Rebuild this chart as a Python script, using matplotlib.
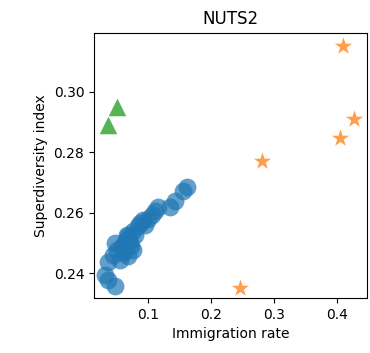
import matplotlib
matplotlib.use("Agg")
import matplotlib.pyplot as plt

# blue circles
circ_x = [0.161, 0.1547, 0.1425, 0.1345, 0.116, 0.1107, 0.1054, 0.092, 0.0868, 0.0948,
          0.0762, 0.0682, 0.071, 0.0603, 0.047, 0.0497, 0.0603, 0.0762, 0.055, 0.0364,
          0.031, 0.0364, 0.047, 0.0656, 0.0443, 0.083, 0.1, 0.058, 0.065, 0.072,
          0.079, 0.062, 0.068]
circ_y = [0.2684, 0.267, 0.2637, 0.262, 0.262, 0.2604, 0.2593, 0.2576, 0.2565, 0.256,
          0.2538, 0.2521, 0.2504, 0.2494, 0.2499, 0.2477, 0.2466, 0.2477, 0.2444, 0.2438,
          0.2394, 0.2378, 0.2356, 0.2527, 0.246, 0.2555, 0.258, 0.2485, 0.251, 0.2488,
          0.2525, 0.2475, 0.2455]
# orange stars
star_x = [0.410, 0.427, 0.405, 0.281, 0.2458]
star_y = [0.3151, 0.2909, 0.2846, 0.2769, 0.235]
# green triangles
tri_x = [0.0507, 0.0364]
tri_y = [0.2949, 0.289]

fig = plt.figure(figsize=(3.70, 3.53), dpi=100)
ax = fig.add_axes([0.254, 0.156, 0.737, 0.751])
ax.scatter(circ_x, circ_y, s=165, marker='o', color='#1f77b4', alpha=0.7, linewidths=0)
ax.scatter(star_x, star_y, s=170, marker='*', color='#ff7f0e', alpha=0.75, linewidths=0)
ax.scatter(tri_x, tri_y, s=160, marker='^', color='#2ca02c', alpha=0.8, linewidths=0)
ax.set_xlim(0.0137, 0.447)
ax.set_ylim(0.2318, 0.3194)
ax.set_xticks([0.1, 0.2, 0.3, 0.4])
ax.set_yticks([0.24, 0.26, 0.28, 0.30])
ax.set_xlabel("Immigration rate")
ax.set_ylabel("Superdiversity index")
ax.set_title("NUTS2")
fig.savefig("out.png", dpi=100)
